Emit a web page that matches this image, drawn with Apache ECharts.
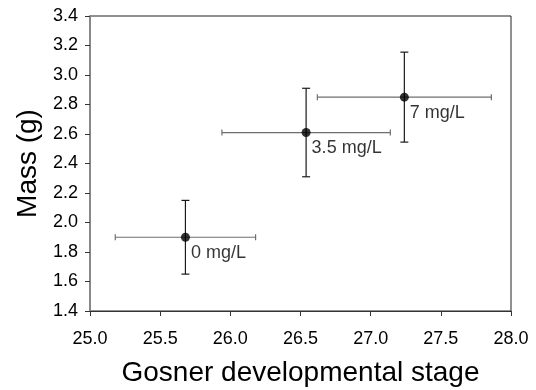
<!DOCTYPE html>
<html>
<head>
<meta charset="utf-8">
<script src="https://cdn.jsdelivr.net/npm/echarts@6/dist/echarts.min.js"></script>
<style>
  html, body { margin: 0; padding: 0; background: #fff; }
  #chart { width: 536px; height: 390px; }
</style>
</head>
<body>
<div id="chart"></div>
<script>
// mass vs Gosner stage, mean +/- error
const labels = ['0 mg/L', '3.5 mg/L', '7 mg/L']
const stage = [25.68, 26.54, 27.24]
const stageErr = [0.5, 0.6, 0.62]
const mass = [1.9, 2.61, 2.85]
const massErr = [0.25, 0.3, 0.305]

const font = 'Liberation Sans, Arial, sans-serif'

const myChart = echarts.init(document.getElementById('chart'))

const points = stage.map(function (x, i) {
  return [x, mass[i], stageErr[i], massErr[i], labels[i]]
})

function renderErr(params, api) {
  const x = api.value(0)
  const y = api.value(1)
  const ex = api.value(2)
  const ey = api.value(3)
  const l = api.coord([x - ex, y])
  const r = api.coord([x + ex, y])
  const t = api.coord([x, y + ey])
  const b = api.coord([x, y - ey])
  const hStyle = { stroke: '#6e6e6e', lineWidth: 1.2 }
  const vStyle = { stroke: '#1a1a1a', lineWidth: 1.2 }
  return {
    type: 'group',
    children: [
      { type: 'line', shape: { x1: l[0], y1: l[1], x2: r[0], y2: r[1] }, style: hStyle },
      { type: 'line', shape: { x1: l[0], y1: l[1] - 3, x2: l[0], y2: l[1] + 3 }, style: hStyle },
      { type: 'line', shape: { x1: r[0], y1: r[1] - 3, x2: r[0], y2: r[1] + 3 }, style: hStyle },
      { type: 'line', shape: { x1: t[0], y1: t[1], x2: b[0], y2: b[1] }, style: vStyle },
      { type: 'line', shape: { x1: t[0] - 4, y1: t[1], x2: t[0] + 4, y2: t[1] }, style: vStyle },
      { type: 'line', shape: { x1: b[0] - 4, y1: b[1], x2: b[0] + 4, y2: b[1] }, style: vStyle },
    ],
  }
}

const option = {
  animation: false,
  grid: {
    left: 90,
    top: 16,
    right: 25,
    bottom: 79,
    outerBoundsMode: 'none',
    show: true,
    borderColor: '#222',
    borderWidth: 1,
  },
  xAxis: {
    type: 'value',
    min: 25,
    max: 28,
    interval: 0.5,
    name: 'Gosner developmental stage',
    nameLocation: 'middle',
    nameGap: 48,
    nameTextStyle: { fontFamily: font, fontSize: 28, color: '#000' },
    axisLine: { onZero: false, lineStyle: { color: '#333', width: 1.2 } },
    axisTick: { show: true, length: 5, lineStyle: { color: '#333' } },
    axisLabel: {
      fontFamily: font,
      fontSize: 18,
      color: '#000',
      margin: 19,
      formatter: function (v) {
        return v.toFixed(1)
      },
    },
    splitLine: { show: false },
  },
  yAxis: {
    type: 'value',
    min: 1.4,
    max: 3.4,
    interval: 0.2,
    name: 'Mass (g)',
    nameLocation: 'middle',
    nameGap: 48,
    nameTextStyle: { fontFamily: font, fontSize: 28, color: '#000' },
    axisLine: { onZero: false, lineStyle: { color: '#888', width: 2 } },
    axisTick: { show: true, length: 5, lineStyle: { color: '#333' } },
    axisLabel: {
      fontFamily: font,
      fontSize: 18,
      color: '#000',
      margin: 12,
      formatter: function (v) {
        return v.toFixed(1)
      },
    },
    splitLine: { show: false },
  },
  series: [
    {
      type: 'custom',
      renderItem: renderErr,
      data: points,
      encode: { x: 0, y: 1 },
      z: 2,
    },
    {
      type: 'scatter',
      data: points,
      symbol: 'circle',
      symbolSize: 9,
      itemStyle: { color: '#000' },
      z: 3,
      label: {
        show: true,
        position: 'right',
        distance: 1,
        offset: [0, 16],
        fontFamily: font,
        fontSize: 18,
        color: '#000',
        formatter: function (p) {
          return p.data[4]
        },
      },
    },
  ],
}

myChart.setOption(option)
</script>
</body>
</html>
